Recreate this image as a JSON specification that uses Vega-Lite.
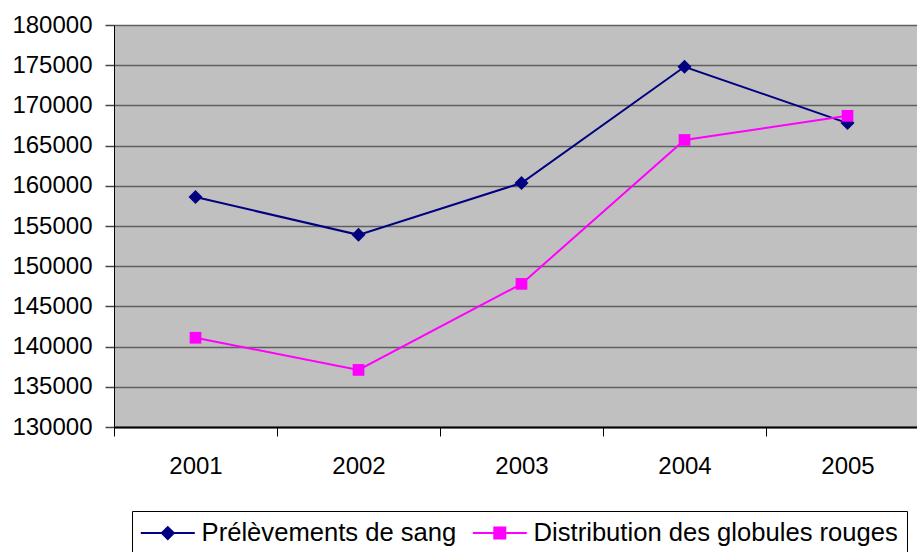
{
  "$schema": "https://vega.github.io/schema/vega-lite/v6.json",
  "width": 815,
  "height": 402,
  "autosize": "none",
  "padding": {"left": 114, "top": 25, "right": 0, "bottom": 125},
  "background": "white",
  "config": {
    "font": "Liberation Sans",
    "view": {"fill": "#C0C0C0", "stroke": null},
    "legend": {
      "orient": "none",
      "legendX": 18,
      "legendY": 486,
      "direction": "horizontal",
      "strokeColor": "black",
      "strokeWidth": 1,
      "padding": 9,
      "labelFont": "Liberation Sans",
      "labelFontSize": 25.6,
      "labelColor": "black",
      "labelLimit": 1000,
      "symbolSize": 400,
      "symbolStrokeWidth": 2,
      "symbolOffset": 14,
      "labelOffset": 21,
      "columnPadding": 11,
      "symbolOpacity": 1
    }
  },
  "data": {
    "values": [
      {"year": "2001", "series": "Prélèvements de sang", "value": 158600},
      {"year": "2002", "series": "Prélèvements de sang", "value": 153900},
      {"year": "2003", "series": "Prélèvements de sang", "value": 160350},
      {"year": "2004", "series": "Prélèvements de sang", "value": 174800},
      {"year": "2005", "series": "Prélèvements de sang", "value": 167800},
      {"year": "2001", "series": "Distribution des globules rouges", "value": 141100},
      {"year": "2002", "series": "Distribution des globules rouges", "value": 137100},
      {"year": "2003", "series": "Distribution des globules rouges", "value": 147800},
      {"year": "2004", "series": "Distribution des globules rouges", "value": 165700},
      {"year": "2005", "series": "Distribution des globules rouges", "value": 168700}
    ]
  },
  "encoding": {
    "x": {
      "field": "year",
      "type": "ordinal",
      "scale": {"paddingInner": 0, "paddingOuter": 0},
      "axis": {
        "title": null,
        "labelAngle": 0,
        "labelFont": "Liberation Sans",
        "labelFontSize": 24,
        "labelColor": "black",
        "labelPadding": 18,
        "tickBand": "extent",
        "tickSize": 9,
        "tickColor": "black",
        "tickWidth": 1,
        "domainColor": "black",
        "domainWidth": 2,
        "grid": false
      }
    },
    "y": {
      "field": "value",
      "type": "quantitative",
      "scale": {"domain": [130000, 180000], "nice": false, "zero": false},
      "axis": {
        "title": null,
        "values": [130000, 135000, 140000, 145000, 150000, 155000, 160000, 165000, 170000, 175000, 180000],
        "format": "d",
        "labelFont": "Liberation Sans",
        "labelFontSize": 24,
        "labelColor": "black",
        "labelPadding": 13,
        "tickSize": 9,
        "tickColor": "#444444",
        "tickWidth": 1.5,
        "domainColor": "black",
        "domainWidth": 1,
        "grid": true,
        "gridColor": "#5f5f5f",
        "gridWidth": 1.5,
        "gridOpacity": 1
      }
    },
    "color": {
      "field": "series",
      "type": "nominal",
      "scale": {
        "domain": ["Prélèvements de sang", "Distribution des globules rouges"],
        "range": ["#000080", "#FF00FF"]
      },
      "legend": {
        "title": null,
        "encoding": {
          "symbols": {
            "shape": {"value": {"expr": "datum.value === 'Prélèvements de sang' ? 'M-2.7,0H2.7M0,-0.6L0.6,0L0,0.6L-0.6,0Z' : 'M-2.7,0H2.7M-0.55,-0.55H0.55V0.55H-0.55Z'"}},
            "fill": {"value": {"expr": "datum.value === 'Prélèvements de sang' ? '#000080' : '#FF00FF'"}},
            "stroke": {"value": {"expr": "datum.value === 'Prélèvements de sang' ? '#000080' : '#FF00FF'"}},
            "strokeWidth": {"value": 2},
            "size": {"value": 400},
            "opacity": {"value": 1},
            "fillOpacity": {"value": 1}
          }
        }
      }
    }
  },
  "layer": [
    {"mark": {"type": "line", "strokeWidth": 2}},
    {
      "transform": [{"filter": "datum.series === 'Prélèvements de sang'"}],
      "mark": {"type": "point", "filled": true, "opacity": 1, "shape": "diamond", "size": 196}
    },
    {
      "transform": [{"filter": "datum.series === 'Distribution des globules rouges'"}],
      "mark": {"type": "point", "filled": true, "opacity": 1, "shape": "square", "size": 137}
    }
  ]
}
